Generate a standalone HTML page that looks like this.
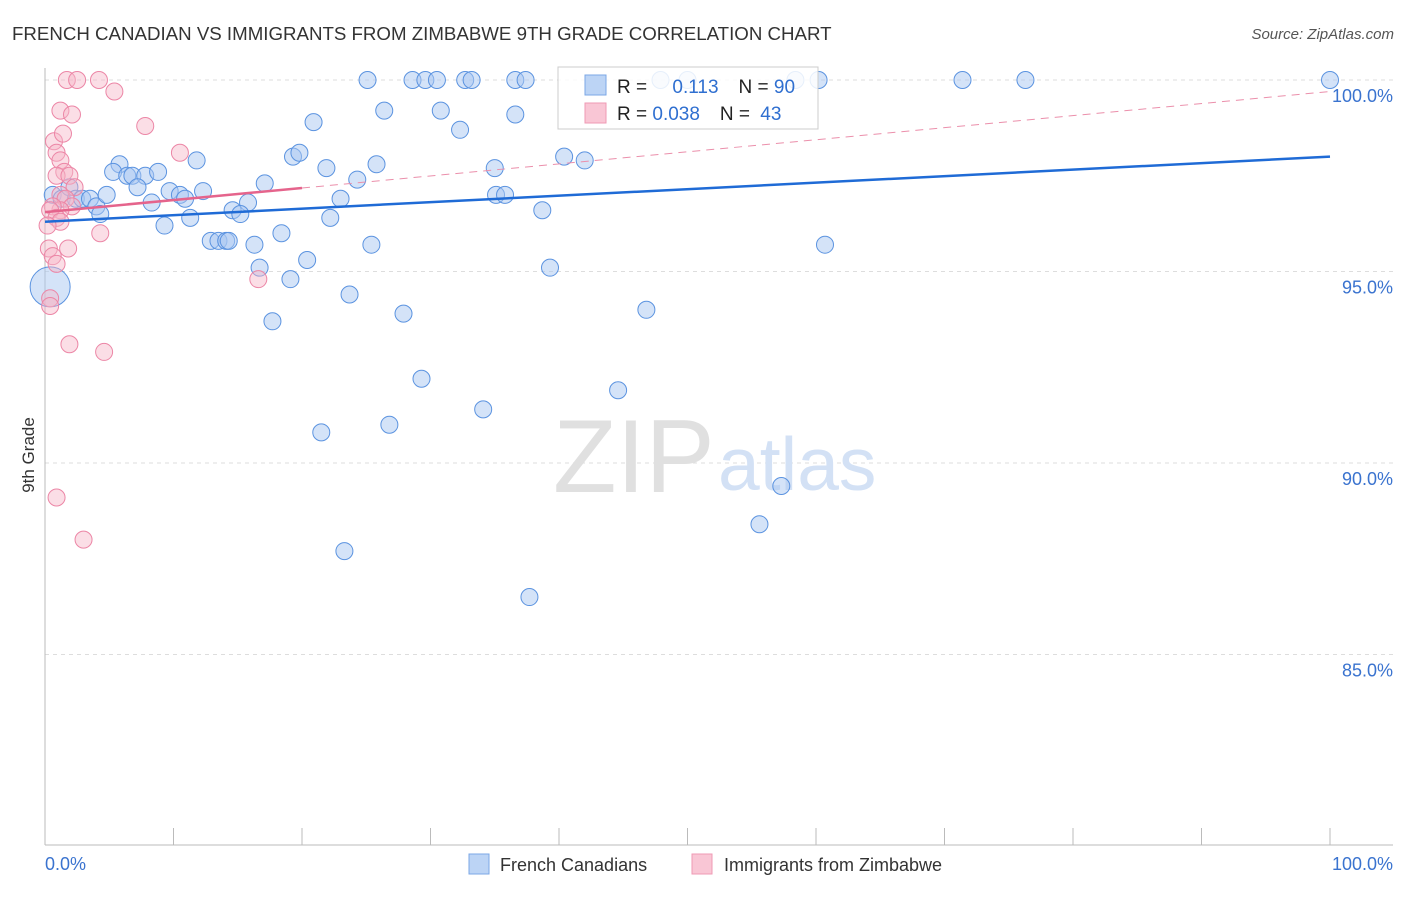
<!DOCTYPE html>
<html><head><meta charset="utf-8"><style>
body{margin:0;background:#fff;font-family:"Liberation Sans",sans-serif;}
svg text{font-family:"Liberation Sans",sans-serif;}
</style></head><body>
<svg width="1406" height="892" viewBox="0 0 1406 892" xmlns="http://www.w3.org/2000/svg">
<text x="12" y="40" font-size="18.7" fill="#333">FRENCH CANADIAN VS IMMIGRANTS FROM ZIMBABWE 9TH GRADE CORRELATION CHART</text>
<text x="1394" y="39" font-size="15" fill="#555" text-anchor="end" font-style="italic">Source: ZipAtlas.com</text>
<g id="grid"></g>
<g id="axes"></g>
<text x="553" y="492" font-size="104" fill="#e0e0e0" font-family="Liberation Serif">ZIP</text>
<text x="718" y="490" font-size="75" fill="#d3e1f5">atlas</text>
<g id="pts"></g>
<g id="trend"></g>
<text x="34" y="455" font-size="17" fill="#333" text-anchor="middle" transform="rotate(-90 34 455)">9th Grade</text>
<g>
<rect x="558" y="67" width="260" height="62" fill="#fff" fill-opacity="0.85" stroke="#ccc"/>
<rect x="585" y="75" width="21" height="20" fill="#bcd4f5" stroke="#7ba7e6"/>
<rect x="585" y="103" width="21" height="20" fill="#f9c6d5" stroke="#ef9ab4"/>
<text x="617" y="93" font-size="19" fill="#222">R = <tspan fill="#2f6fd0" dx="20">0.113</tspan><tspan dx="20" fill="#222">N = </tspan><tspan fill="#2f6fd0">90</tspan></text>
<text x="617" y="120" font-size="19" fill="#222">R = <tspan fill="#2f6fd0">0.038</tspan><tspan dx="20" fill="#222">N = </tspan><tspan fill="#2f6fd0" dx="5">43</tspan></text>
</g>
<g>
<rect x="469" y="854" width="20" height="20" fill="#bcd4f5" stroke="#7ba7e6"/>
<text x="500" y="871" font-size="18" fill="#333">French Canadians</text>
<rect x="692" y="854" width="20" height="20" fill="#f9c6d5" stroke="#ef9ab4"/>
<text x="724" y="871" font-size="18" fill="#333">Immigrants from Zimbabwe</text>
</g>
</svg>
<script>
const blueX=[25.1,28.6,29.6,30.5,32.7,33.2,36.6,37.4,47.9,50.0,58.4,60.2,71.4,76.3,100,26.4,30.8,36.6,20.9,32.3,11.8,19.3,19.8,21.9,25.8,24.3,5.8,5.3,6.4,6.8,7.8,8.8,7.2,17.1,9.7,10.5,10.9,12.3,8.3,15.8,14.6,15.2,11.3,9.3,22.2,23.0,35.0,35.1,35.8,38.7,40.4,42.0,12.9,13.5,14.1,14.3,16.3,18.4,25.4,60.7,16.7,20.4,19.1,39.3,23.7,17.7,27.9,46.8,29.3,44.6,34.1,21.5,26.8,57.3,55.6,23.3,37.7,0.6,1.3,1.9,2.4,2.9,3.5,4.0,4.3,4.8,0.4];
const blueY=[100,100,100,100,100,100,100,100,100,100,100,100,100,100,100,99.2,99.2,99.1,98.9,98.7,97.9,98.0,98.1,97.7,97.8,97.4,97.8,97.6,97.5,97.5,97.5,97.6,97.2,97.3,97.1,97.0,96.9,97.1,96.8,96.8,96.6,96.5,96.4,96.2,96.4,96.9,97.7,97.0,97.0,96.6,98.0,97.9,95.8,95.8,95.8,95.8,95.7,96.0,95.7,95.7,95.1,95.3,94.8,95.1,94.4,93.7,93.9,94.0,92.2,91.9,91.4,90.8,91.0,89.4,88.4,87.7,86.5,97.0,96.9,97.2,96.9,96.9,96.9,96.7,96.5,97.0,94.6];
const pinkX=[1.7,2.5,4.2,5.4,1.2,2.1,0.7,1.4,0.9,1.2,1.5,0.9,1.9,2.3,1.2,1.6,2.1,1.2,0.6,0.4,0.9,1.2,0.2,4.3,0.3,1.8,0.6,0.9,0.4,0.4,1.9,4.6,7.8,10.5,16.6,0.9,3.0];
const pinkY=[100,100,100,99.7,99.2,99.1,98.4,98.6,98.1,97.9,97.6,97.5,97.5,97.2,97.0,96.9,96.7,96.6,96.7,96.6,96.4,96.3,96.2,96.0,95.6,95.6,95.4,95.2,94.3,94.1,93.1,92.9,98.8,98.1,94.8,89.1,88.0];
const blueTrend=[96.3,98.0];
const pinkTrend=[96.55,99.7];
const pinkSolidEnd=20;
const yTicks=[100,95,90,85];
const xTickVals=[0,10,20,30,40,50,60,70,80,90,100];
const NS='http://www.w3.org/2000/svg';
const X=v=>45+v*12.85, Y=v=>80+(100-v)*38.3;
function mk(t,a,p){const e=document.createElementNS(NS,t);for(const k in a)e.setAttribute(k,a[k]);p.appendChild(e);return e;}
const grid=document.getElementById('grid'),axes=document.getElementById('axes'),pts=document.getElementById('pts'),tr=document.getElementById('trend');
yTicks.forEach(v=>{const l=mk('line',{x1:45,x2:1393,y1:Y(v),y2:Y(v),stroke:'#ddd','stroke-dasharray':'4,4'},grid);

const t=mk('text',{x:1393,y:Y(v)+22,'font-size':18,fill:'#3a73cf','text-anchor':'end'},axes);t.textContent=v.toFixed(1)+'%';
});
const ax=mk('line',{x1:45,x2:1393,y1:845,y2:845,stroke:'#bbb'},axes);
const ay=mk('line',{x1:45,x2:45,y1:68,y2:845,stroke:'#bbb'},axes);
xTickVals.forEach(v=>{const l=mk('line',{x1:X(v),x2:X(v),y1:828,y2:845,stroke:'#bbb'},axes);});
[['0.0%',45,'start'],['100.0%',1393,'end']].forEach(a=>{const t=mk('text',{x:a[1],y:870,'font-size':18,fill:'#3a73cf','text-anchor':a[2]},axes);t.textContent=a[0];});
blueX.forEach((x,i)=>{const big=i===blueX.length-1;const c=mk('circle',{cx:X(x),cy:Y(blueY[i]),r:big?20:8.5,fill:'#a9c8f2','fill-opacity':0.5,stroke:'#5b93e0','stroke-width':1},pts);
});
pinkX.forEach((x,i)=>{const c=mk('circle',{cx:X(x),cy:Y(pinkY[i]),r:8.5,fill:'#f7b5c8','fill-opacity':0.45,stroke:'#ec86a6','stroke-width':1},pts);
});
const py=v=>pinkTrend[0]+(pinkTrend[1]-pinkTrend[0])*v/100;
let l=mk('line',{x1:X(0),y1:Y(blueTrend[0]),x2:X(100),y2:Y(blueTrend[1]),stroke:'#1f6bd6','stroke-width':2.5},tr);
l=mk('line',{x1:X(pinkSolidEnd),y1:Y(py(pinkSolidEnd)),x2:X(100),y2:Y(py(100)),stroke:'#eb8fab','stroke-width':1,'stroke-dasharray':'8,6'},tr);
l=mk('line',{x1:X(0),y1:Y(py(0)),x2:X(pinkSolidEnd),y2:Y(py(pinkSolidEnd)),stroke:'#e5648c','stroke-width':2.5},tr);
</script>
</body></html>
